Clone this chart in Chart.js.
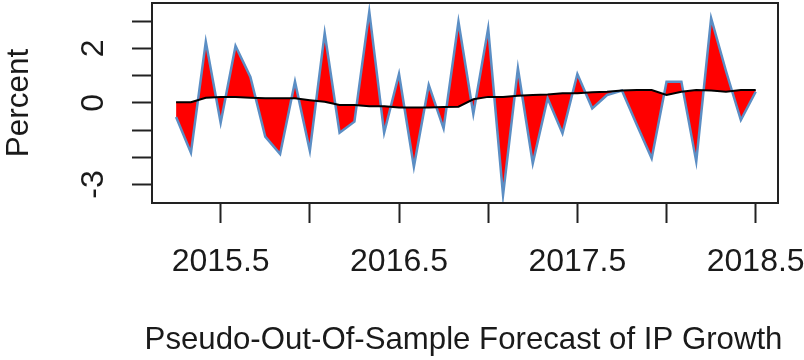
<!DOCTYPE html>
<html>
<head>
<meta charset="utf-8">
<script src="https://cdn.jsdelivr.net/npm/chart.js@4"></script>
<style>
  html, body { margin: 0; padding: 0; background: #fff; }
</style>
</head>
<body>
<canvas id="chart" width="804" height="360"></canvas>
<script>
// Monthly IP growth: actual vs pseudo-out-of-sample forecast (percent)
const months = [
  '2015-04', '2015-05', '2015-06', '2015-07', '2015-08', '2015-09', '2015-10', '2015-11', '2015-12',
  '2016-01', '2016-02', '2016-03', '2016-04', '2016-05', '2016-06', '2016-07', '2016-08', '2016-09', '2016-10', '2016-11', '2016-12',
  '2017-01', '2017-02', '2017-03', '2017-04', '2017-05', '2017-06', '2017-07', '2017-08', '2017-09', '2017-10', '2017-11', '2017-12',
  '2018-01', '2018-02', '2018-03', '2018-04', '2018-05', '2018-06', '2018-07'
];
const actual = [
  -0.52, -1.83, 2.25, -0.73, 2.09, 0.95, -1.24, -1.88, 0.78,
  -1.76, 2.56, -1.10, -0.69, 3.35, -1.10, 1.06, -2.35, 0.66, -0.94, 2.98, -0.41,
  2.74, -3.39, 1.27, -2.22, 0.17, -1.12, 1.06, -0.20, 0.29, 0.45, -0.80, -2.04,
  0.78, 0.78, -2.16, 3.11, 1.17, -0.63, 0.41
];
const forecast = [
  0.02, 0.02, 0.19, 0.22, 0.22, 0.19, 0.17, 0.17, 0.17,
  0.10, 0.04, -0.08, -0.08, -0.12, -0.12, -0.17, -0.17, -0.17, -0.15, -0.14, 0.13,
  0.22, 0.22, 0.26, 0.29, 0.31, 0.35, 0.35, 0.39, 0.41, 0.45, 0.47, 0.47,
  0.29, 0.41, 0.47, 0.45, 0.41, 0.47, 0.47
];
const xTicks = [2015.5, 2016, 2016.5, 2017, 2017.5, 2018, 2018.5];
const xLabels = [2015.5, 2016.5, 2017.5, 2018.5];
const yTicks = [-3, -2, -1, 0, 1, 2, 3];
const yLabels = [2, 0, -3];
const xTitle = 'Pseudo-Out-Of-Sample Forecast of IP Growth';

// R-style time index: year + (month - 1) / 12
const t = months.map(m => {
  const [yy, mm] = m.split('-').map(Number);
  return yy + (mm - 1) / 12;
});

const FONT = "'Liberation Sans', Arial, sans-serif";
const INK = '#1a1a1a';

const boxPlugin = {
  id: 'rbox',
  afterDraw(chart) {
    const { ctx, chartArea: a, scales } = chart;
    ctx.save();
    ctx.strokeStyle = '#222';
    ctx.lineWidth = 2;
    ctx.strokeRect(a.left, a.top, a.right - a.left, a.bottom - a.top);
    ctx.fillStyle = INK;
    ctx.textAlign = 'center';
    ctx.textBaseline = 'middle';
    // y tick labels, rotated like R's default las=0
    ctx.font = '32px ' + FONT;
    yLabels.forEach(v => {
      const y = scales.y.getPixelForValue(v);
      ctx.save();
      ctx.translate(94.5, y);
      ctx.rotate(-Math.PI / 2);
      ctx.fillText(String(v), 0, 0);
      ctx.restore();
    });
    // x axis title (wider than the plot box, so not squeezed)
    ctx.font = '31.2px ' + FONT;
    ctx.fillText(xTitle, (a.left + a.right) / 2 - 1.5, 340.5);
    ctx.restore();
  }
};

new Chart(document.getElementById('chart'), {
  type: 'line',
  data: {
    datasets: [
      {
        label: 'Forecast',
        data: t.map((x, i) => ({ x, y: forecast[i] })),
        borderColor: '#000',
        borderWidth: 2,
        pointRadius: 0,
        fill: false
      },
      {
        label: 'Actual',
        data: t.map((x, i) => ({ x, y: actual[i] })),
        borderColor: '#5b8ec4',
        borderWidth: 2.5,
        backgroundColor: '#ff0000',
        pointRadius: 0,
        fill: '-1'
      }
    ]
  },
  options: {
    responsive: false,
    animation: false,
    layout: { padding: { top: 3, right: 26, left: 0, bottom: 0 } },
    plugins: { legend: { display: false }, tooltip: { enabled: false } },
    elements: { line: { tension: 0 } },
    scales: {
      x: {
        type: 'linear',
        min: 2015.115,
        max: 2018.625,
        afterBuildTicks: axis => { axis.ticks = xTicks.map(v => ({ value: v })); },
        afterFit: axis => {
          axis.height = 157;
          axis.paddingLeft = 0;
          axis.paddingRight = 0;
        },
        border: { display: false },
        grid: { drawOnChartArea: false, drawTicks: true, tickLength: 20, tickWidth: 2, tickColor: '#222' },
        ticks: {
          autoSkip: false,
          maxRotation: 0,
          padding: 19.5,
          color: INK,
          font: { family: FONT, size: 32, lineHeight: 1.2 },
          callback: v => (xLabels.includes(v) ? String(v) : '')
        },
        title: { display: false }
      },
      y: {
        type: 'linear',
        min: -3.68,
        max: 3.67,
        afterBuildTicks: axis => { axis.ticks = yTicks.map(v => ({ value: v })); },
        afterFit: axis => {
          axis.width = 152;
          axis.paddingTop = 0;
          axis.paddingBottom = 0;
        },
        border: { display: false },
        grid: { drawOnChartArea: false, drawTicks: true, tickLength: 20, tickWidth: 2, tickColor: '#222' },
        ticks: { display: false },
        title: {
          display: true,
          text: 'Percent',
          color: INK,
          padding: { top: 0, bottom: 0 },
          font: { family: FONT, size: 31.5, lineHeight: 1.2 }
        }
      }
    }
  },
  plugins: [boxPlugin]
});
</script>
</body>
</html>
